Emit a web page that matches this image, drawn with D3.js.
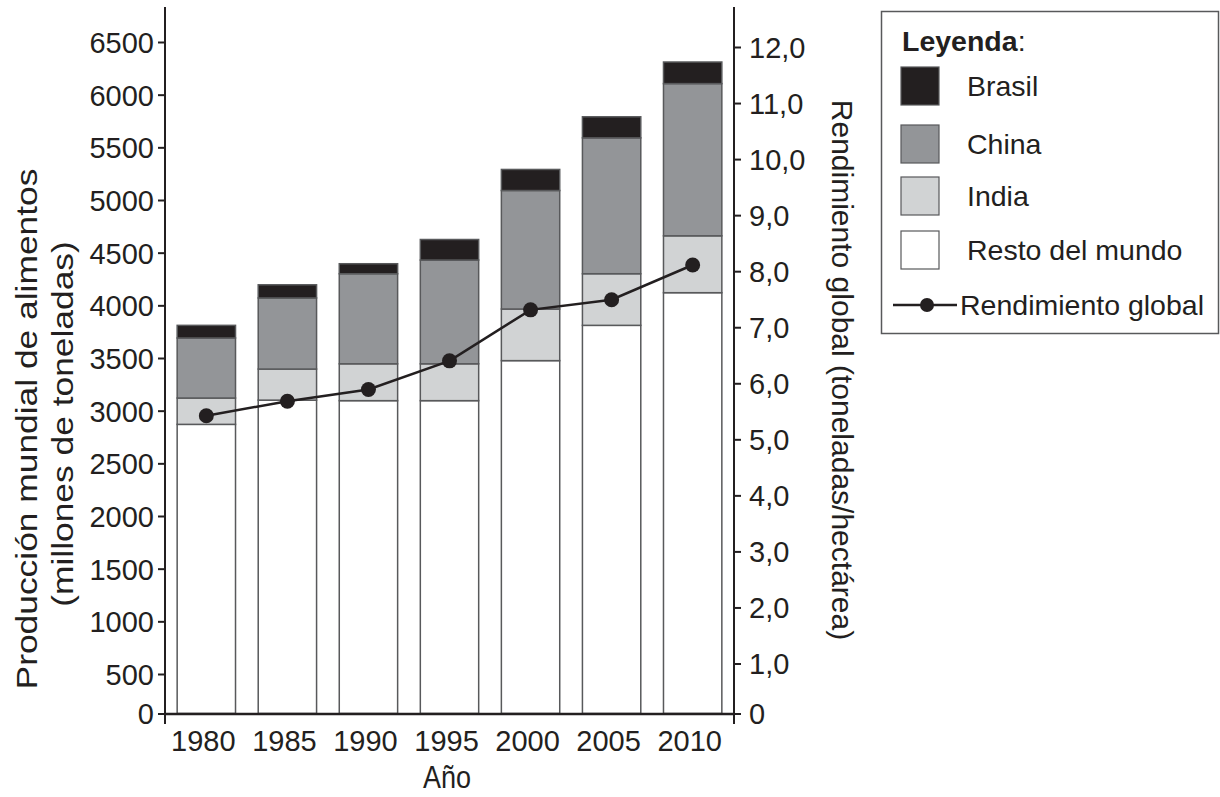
<!DOCTYPE html>
<html lang="es">
<head>
<meta charset="UTF-8">
<title>Producción mundial de alimentos</title>
<script src="https://d3js.org/d3.v7.min.js"></script>
<style>
  html, body { margin: 0; padding: 0; background: #fff; }
  svg { display: block; }
  text { font-family: "Liberation Sans", Arial, sans-serif; fill: #231f20; }
</style>
</head>
<body>
<script>
// chart values
const years = ["1980", "1985", "1990", "1995", "2000", "2005", "2010"];
const resto = [2870, 3100, 3095, 3095, 3475, 3810, 4120];
const india = [250, 295, 350, 350, 490, 490, 540];
const china = [570, 675, 855, 985, 1125, 1290, 1445];
const brasil = [120, 125, 95, 195, 200, 200, 205];
const rendimiento = [5.42, 5.68, 5.89, 6.40, 7.31, 7.49, 8.11];

const leftTicks = d3.range(0, 6501, 500);
const rightTicks = d3.range(0, 13, 1);

const seriesKeys = ["resto", "india", "china", "brasil"];
const seriesNames = { brasil: "Brasil", china: "China", india: "India", resto: "Resto del mundo" };
const seriesColors = { brasil: "#231f20", china: "#939598", india: "#d1d3d4", resto: "#ffffff" };

const w = 1220, h = 797;
const ink = "#231f20";
const edge = "#58595b";
const fs = 29;        // tick font size
const lfs = 28.5;     // legend font size
const stretch = 1.22; // the left title is drawn long in the original

const rows = years.map((y, i) => ({
  year: y, resto: resto[i], india: india[i], china: china[i], brasil: brasil[i], rend: rendimiento[i]
}));

const svg = d3.select("body").append("svg")
  .attr("width", w).attr("height", h)
  .attr("viewBox", [0, 0, w, h]);

// scales
const x = d3.scaleBand().domain(years).range([165, 734]).paddingInner(0.28).paddingOuter(0.15);
const yL = d3.scaleLinear().domain([0, 500, 6500]).range([713.5, 674, 42]);
const yR = d3.scaleLinear().domain([0, 1, 12]).range([713.5, 663.5, 47]);

// stacked bars
const stack = d3.stack().keys(seriesKeys)(rows);
svg.append("g").selectAll("g")
  .data(stack)
  .join("g")
  .attr("fill", d => seriesColors[d.key])
  .selectAll("rect")
  .data(d => d)
  .join("rect")
  .attr("x", d => x(d.data.year))
  .attr("y", d => yL(d[1]))
  .attr("width", x.bandwidth())
  .attr("height", d => yL(d[0]) - yL(d[1]))
  .attr("stroke", edge)
  .attr("stroke-width", 1.5);

// left axis
const axL = svg.append("g")
  .attr("transform", "translate(165,0)")
  .call(d3.axisLeft(yL).tickValues(leftTicks).tickFormat(d3.format("d")).tickSize(7).tickPadding(4).tickSizeOuter(0));
axL.select(".domain").remove();
axL.selectAll(".tick line").attr("stroke", ink).attr("stroke-width", 2);
axL.selectAll(".tick text")
  .attr("dy", 0)
  .attr("font-size", fs)
  .attr("transform", `translate(0,${0.716 * fs / 2})`);

// right axis
const axR = svg.append("g")
  .attr("transform", "translate(734,0)")
  .call(d3.axisRight(yR).tickValues(rightTicks)
    .tickFormat(d => d === 0 ? "0" : d.toFixed(1).replace(".", ","))
    .tickSize(7).tickPadding(8).tickSizeOuter(0));
axR.select(".domain").remove();
axR.selectAll(".tick line").attr("stroke", ink).attr("stroke-width", 2);
axR.selectAll(".tick text")
  .attr("dy", 0)
  .attr("font-size", fs)
  .attr("transform", `translate(0,${0.716 * fs / 2})`);

// axis lines
svg.append("line").attr("x1", 165).attr("x2", 165).attr("y1", 7).attr("y2", 724)
  .attr("stroke", ink).attr("stroke-width", 2);
svg.append("line").attr("x1", 734).attr("x2", 734).attr("y1", 7).attr("y2", 724)
  .attr("stroke", ink).attr("stroke-width", 2);

// bottom axis
const axB = svg.append("g")
  .attr("transform", `translate(0,${yL(0)})`)
  .call(d3.axisBottom(x).tickSize(0).tickSizeOuter(0));
axB.select(".domain").attr("stroke", ink).attr("stroke-width", 2.5);
axB.selectAll(".tick text")
  .attr("y", 0).attr("dy", 0).attr("dx", -3)
  .attr("font-size", fs)
  .attr("transform", "translate(0,37)");

// yield line
const cx = d => x(d.year) + x.bandwidth() / 2;
svg.append("path")
  .datum(rows)
  .attr("fill", "none")
  .attr("stroke", ink)
  .attr("stroke-width", 2.5)
  .attr("d", d3.line().x(cx).y(d => yR(d.rend)));
svg.append("g").selectAll("circle")
  .data(rows)
  .join("circle")
  .attr("cx", cx)
  .attr("cy", d => yR(d.rend))
  .attr("r", 7.5)
  .attr("fill", ink);

// axis titles
svg.append("text")
  .attr("transform", "translate(447,788) scale(1,1.15)")
  .attr("text-anchor", "middle")
  .attr("font-size", 27)
  .text("Año");

svg.append("text")
  .attr("transform", `translate(37,429) rotate(-90) scale(${stretch},1)`)
  .attr("text-anchor", "middle")
  .attr("font-size", fs)
  .text("Producción mundial de alimentos");
svg.append("text")
  .attr("transform", `translate(73,424) rotate(-90) scale(${stretch},1)`)
  .attr("text-anchor", "middle")
  .attr("font-size", fs)
  .text("(millones de toneladas)");

svg.append("text")
  .attr("transform", "translate(832,370) rotate(90)")
  .attr("text-anchor", "middle")
  .attr("font-size", 30)
  .text("Rendimiento global (toneladas/hectárea)");

// legend
const lg = svg.append("g");
lg.append("rect")
  .attr("x", 881.5).attr("y", 11.5)
  .attr("width", 337).attr("height", 322)
  .attr("fill", "#fff").attr("stroke", edge).attr("stroke-width", 1.5);

const head = lg.append("text")
  .attr("transform", "translate(902,51)")
  .attr("font-size", lfs);
head.append("tspan").attr("font-weight", "bold").text("Leyenda");
head.append("tspan").text(":");

const legendKeys = ["brasil", "china", "india", "resto"];
const legendTop = [67, 125, 177, 231];
const items = lg.selectAll("g.item")
  .data(legendKeys)
  .join("g")
  .attr("class", "item")
  .attr("transform", (d, i) => `translate(901,${legendTop[i]})`);
items.append("rect")
  .attr("width", 38).attr("height", 38)
  .attr("fill", d => seriesColors[d])
  .attr("stroke", edge).attr("stroke-width", 1.2);
items.append("text")
  .attr("transform", `translate(66,${19 + 0.716 * lfs / 2})`)
  .attr("font-size", lfs)
  .text(d => seriesNames[d]);

lg.append("line")
  .attr("x1", 893).attr("x2", 957).attr("y1", 305).attr("y2", 305)
  .attr("stroke", ink).attr("stroke-width", 2.5);
lg.append("circle").attr("cx", 927).attr("cy", 305).attr("r", 7).attr("fill", ink);
lg.append("text")
  .attr("transform", `translate(960,${305 + 0.716 * lfs / 2})`)
  .attr("font-size", lfs)
  .text("Rendimiento global");
</script>
</body>
</html>
